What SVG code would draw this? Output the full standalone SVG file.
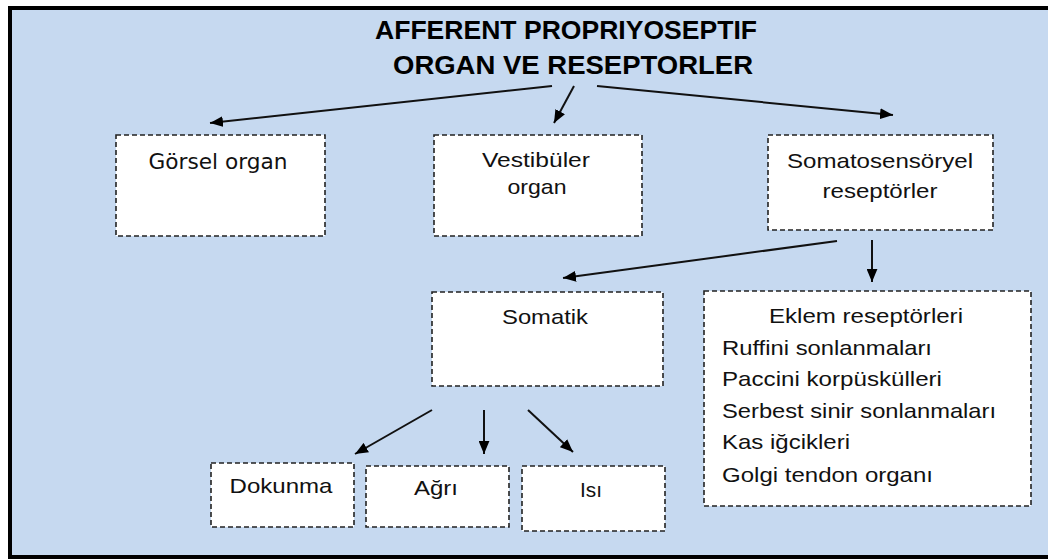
<svg xmlns="http://www.w3.org/2000/svg" width="1048" height="560" viewBox="0 0 1048 560">
<defs>
<marker id="ah" viewBox="0 0 12 10" refX="12" refY="5" markerWidth="13" markerHeight="11" markerUnits="userSpaceOnUse" orient="auto">
<path d="M0,0 L12,5 L0,10 Z" fill="#000"/>
</marker>
<style>
.box{fill:#fff;stroke:#222;stroke-width:1.6;stroke-dasharray:5 3}
.t{font-family:"Liberation Sans",Arial,sans-serif;font-size:21px;fill:#111}
.c{text-anchor:middle}
.title{font-family:"Liberation Sans",Arial,sans-serif;font-size:25px;font-weight:bold;fill:#000;text-anchor:middle}
.ln{stroke:#111;stroke-width:2;fill:none;marker-end:url(#ah)}
</style>
</defs>
<rect x="0" y="0" width="1048" height="560" fill="#fff"/>
<rect x="10" y="8" width="1045" height="549" fill="#C6D9F0" stroke="#000" stroke-width="4"/>
<g id="title">
<text class="title" x="566" y="39" textLength="382" lengthAdjust="spacingAndGlyphs">AFFERENT PROPRIYOSEPTIF</text>
<text class="title" x="573" y="74" textLength="360" lengthAdjust="spacingAndGlyphs">ORGAN VE RESEPTORLER</text>
</g>
<g id="connectors">
<line class="ln" x1="552" y1="86" x2="210" y2="123"/>
<line class="ln" x1="574" y1="86" x2="554" y2="123"/>
<line class="ln" x1="597" y1="86" x2="893" y2="115"/>
<line class="ln" x1="837" y1="241" x2="563" y2="278"/>
<line class="ln" x1="872" y1="240" x2="872" y2="282"/>
<line class="ln" x1="432" y1="410" x2="355" y2="454"/>
<line class="ln" x1="484" y1="410" x2="484" y2="454"/>
<line class="ln" x1="528" y1="410" x2="573" y2="452"/>
</g>
<g id="gorsel">
<rect class="box" x="116" y="135" width="209" height="101"/>
<text x="218" y="169" font-family="'DejaVu Sans',Verdana,sans-serif" font-size="21" fill="#111" text-anchor="middle" textLength="139" lengthAdjust="spacingAndGlyphs">Görsel organ</text>
</g>
<g id="vestibuler">
<rect class="box" x="434" y="135" width="208" height="101"/>
<text class="t c" x="536" y="167" textLength="108" lengthAdjust="spacingAndGlyphs">Vestibüler</text>
<text class="t c" x="537" y="194" textLength="59" lengthAdjust="spacingAndGlyphs">organ</text>
</g>
<g id="somatosensoryel">
<rect class="box" x="768" y="135" width="225" height="95"/>
<text class="t c" x="880" y="168" textLength="186" lengthAdjust="spacingAndGlyphs">Somatosensöryel</text>
<text class="t c" x="880" y="198" textLength="115" lengthAdjust="spacingAndGlyphs">reseptörler</text>
</g>
<g id="somatik">
<rect class="box" x="432" y="292" width="231" height="94"/>
<text class="t c" x="545" y="324" textLength="86" lengthAdjust="spacingAndGlyphs">Somatik</text>
</g>
<g id="eklem">
<rect class="box" x="704" y="291" width="327" height="215"/>
<text class="t c" x="866" y="323" textLength="194" lengthAdjust="spacingAndGlyphs">Eklem reseptörleri</text>
<text class="t" x="722" y="355" textLength="210" lengthAdjust="spacingAndGlyphs">Ruffini sonlanmaları</text>
<text class="t" x="722" y="386" textLength="220" lengthAdjust="spacingAndGlyphs">Paccini korpüskülleri</text>
<text class="t" x="722" y="418" textLength="274" lengthAdjust="spacingAndGlyphs">Serbest sinir sonlanmaları</text>
<text class="t" x="722" y="449" textLength="128" lengthAdjust="spacingAndGlyphs">Kas iğcikleri</text>
<text class="t" x="722" y="482" textLength="211" lengthAdjust="spacingAndGlyphs">Golgi tendon organı</text>
</g>
<g id="dokunma">
<rect class="box" x="211" y="463" width="143" height="64"/>
<text class="t c" x="281" y="493" textLength="103" lengthAdjust="spacingAndGlyphs">Dokunma</text>
</g>
<g id="agri">
<rect class="box" x="366" y="466" width="143" height="61"/>
<text class="t c" x="436" y="495" textLength="44" lengthAdjust="spacingAndGlyphs">Ağrı</text>
</g>
<g id="isi">
<rect class="box" x="522" y="466" width="143" height="65"/>
<text class="t c" x="591" y="497" textLength="22" lengthAdjust="spacingAndGlyphs">Isı</text>
</g>
</svg>
